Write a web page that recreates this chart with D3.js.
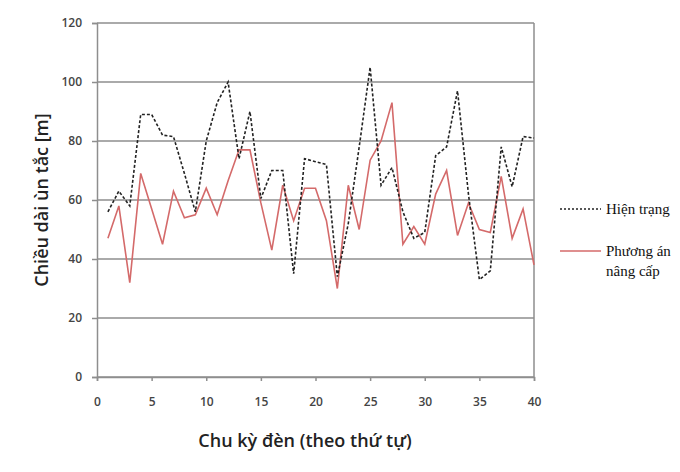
<!DOCTYPE html>
<html>
<head>
<meta charset="utf-8">
<script src="https://cdn.jsdelivr.net/npm/d3@7"></script>
<style>
  body { margin: 0; background: #fff; }
  .tick text { font-family: "Open Sans", sans-serif; font-size: 12px; font-weight: 600; fill: #444; }
</style>
</head>
<body>
<script>
// Chu kỳ đèn 1..40
var cycles = d3.range(1, 41);

// Hiện trạng (đường đứt nét)
var hienTrang = [56, 63, 58, 89, 89, 82, 81.5, 69, 56, 80,
                 93, 100, 74, 90, 60.5, 70, 70, 35, 74, 73,
                 72, 34, 52, 78, 105, 65, 71, 56, 47, 49,
                 75, 78, 97, 62, 33, 36, 78, 64.5, 81.5, 81];

// Phương án nâng cấp
var phuongAn = [47, 58, 32, 69, 57, 45, 63, 54, 55, 64,
                55, 66.5, 77, 77, 59, 43, 65, 53, 64, 64,
                53, 30, 65, 50, 73.5, 80, 93, 45, 51, 45,
                62, 70, 48, 59, 50, 49, 68, 47, 57, 38];

var xTicks = [0, 5, 10, 15, 20, 25, 30, 35, 40];
var yTicks = [0, 20, 40, 60, 80, 100, 120];
var legendLabels = [["Hiện trạng"], ["Phương án", "nâng cấp"]];

//Dimensionen
var margin = {top: 23, right: 146, bottom: 95, left: 97};
var width = 680 - margin.left - margin.right;
var height = 472 - margin.top - margin.bottom;

var svg = d3.select("body").append("svg")
  .attr("width", 680)
  .attr("height", 472);

var g = svg.append("g")
  .attr("transform", "translate(" + margin.left + "," + margin.top + ")");

var x = d3.scaleLinear().domain([0, 40]).range([0, width]);
var y = d3.scaleLinear().domain([0, 120]).range([height, 0]);

//Gitterlinien
g.selectAll("line.grid")
  .data(yTicks)
  .enter()
  .append("line")
  .attr("class", "grid")
  .attr("x1", 0)
  .attr("x2", width)
  .attr("y1", function(d) { return y(d); })
  .attr("y2", function(d) { return y(d); })
  .attr("stroke", "#8e8e8e")
  .attr("stroke-width", 1.5);

// rechter Rahmen
g.append("line")
  .attr("x1", width).attr("x2", width)
  .attr("y1", 0).attr("y2", height)
  .attr("stroke", "#8e8e8e")
  .attr("stroke-width", 1.5);

//y-Achse
var yAxis = g.append("g")
  .call(d3.axisLeft(y).tickValues(yTicks).tickSize(5).tickPadding(10));
yAxis.select(".domain").attr("stroke", "#8e8e8e").attr("stroke-width", 1.5);
yAxis.selectAll(".tick line").attr("stroke", "#8e8e8e").attr("stroke-width", 1.5);

//x-Achse
var xAxis = g.append("g")
  .attr("transform", "translate(0," + height + ")")
  .call(d3.axisBottom(x).tickValues(xTicks).tickSize(4).tickPadding(16));
xAxis.select(".domain").attr("stroke", "#8e8e8e").attr("stroke-width", 1.5);
xAxis.selectAll(".tick line").attr("stroke", "#8e8e8e").attr("stroke-width", 1.5);

//Linien
var line = d3.line()
  .x(function(d, i) { return x(cycles[i]); })
  .y(function(d) { return y(d); });

g.append("path")
  .datum(phuongAn)
  .attr("d", line)
  .attr("fill", "none")
  .attr("stroke", "#d46a6a")
  .attr("stroke-width", 1.6);

g.append("path")
  .datum(hienTrang)
  .attr("d", line)
  .attr("fill", "none")
  .attr("stroke", "#222")
  .attr("stroke-width", 1.6)
  .attr("stroke-dasharray", "3,2");

//Achsentitel
svg.append("text")
  .attr("transform", "translate(42,200) rotate(-90)")
  .attr("dy", "0.35em")
  .attr("text-anchor", "middle")
  .attr("font-family", "Open Sans, sans-serif")
  .attr("font-size", "18px")
  .attr("font-weight", "600")
  .attr("fill", "#222")
  .text("Chiều dài ùn tắc [m]");

svg.append("text")
  .attr("x", 305)
  .attr("y", 447)
  .attr("text-anchor", "middle")
  .attr("font-family", "Open Sans, sans-serif")
  .attr("font-size", "18px")
  .attr("font-weight", "600")
  .attr("fill", "#222")
  .text("Chu kỳ đèn (theo thứ tự)");

//Legende
var legend = svg.append("g").attr("transform", "translate(560,209)");

legend.append("line")
  .attr("x1", 0).attr("x2", 41).attr("y1", 0).attr("y2", 0)
  .attr("stroke", "#222").attr("stroke-width", 1.4)
  .attr("stroke-dasharray", "2,2");
legend.append("line")
  .attr("x1", 0).attr("x2", 41).attr("y1", 42).attr("y2", 42)
  .attr("stroke", "#d46a6a").attr("stroke-width", 1.6);

legend.selectAll("text.lbl")
  .data(legendLabels)
  .enter()
  .append("text")
  .attr("class", "lbl")
  .attr("x", 46)
  .attr("y", function(d, i) { return i * 42 + 5; })
  .attr("font-family", "Liberation Serif, serif")
  .attr("font-size", "15px")
  .attr("fill", "#111")
  .each(function(d) {
    var t = d3.select(this);
    d.forEach(function(s, j) {
      t.append("tspan").attr("x", 46).attr("dy", j === 0 ? 0 : 20).text(s);
    });
  });
</script>
</body>
</html>
